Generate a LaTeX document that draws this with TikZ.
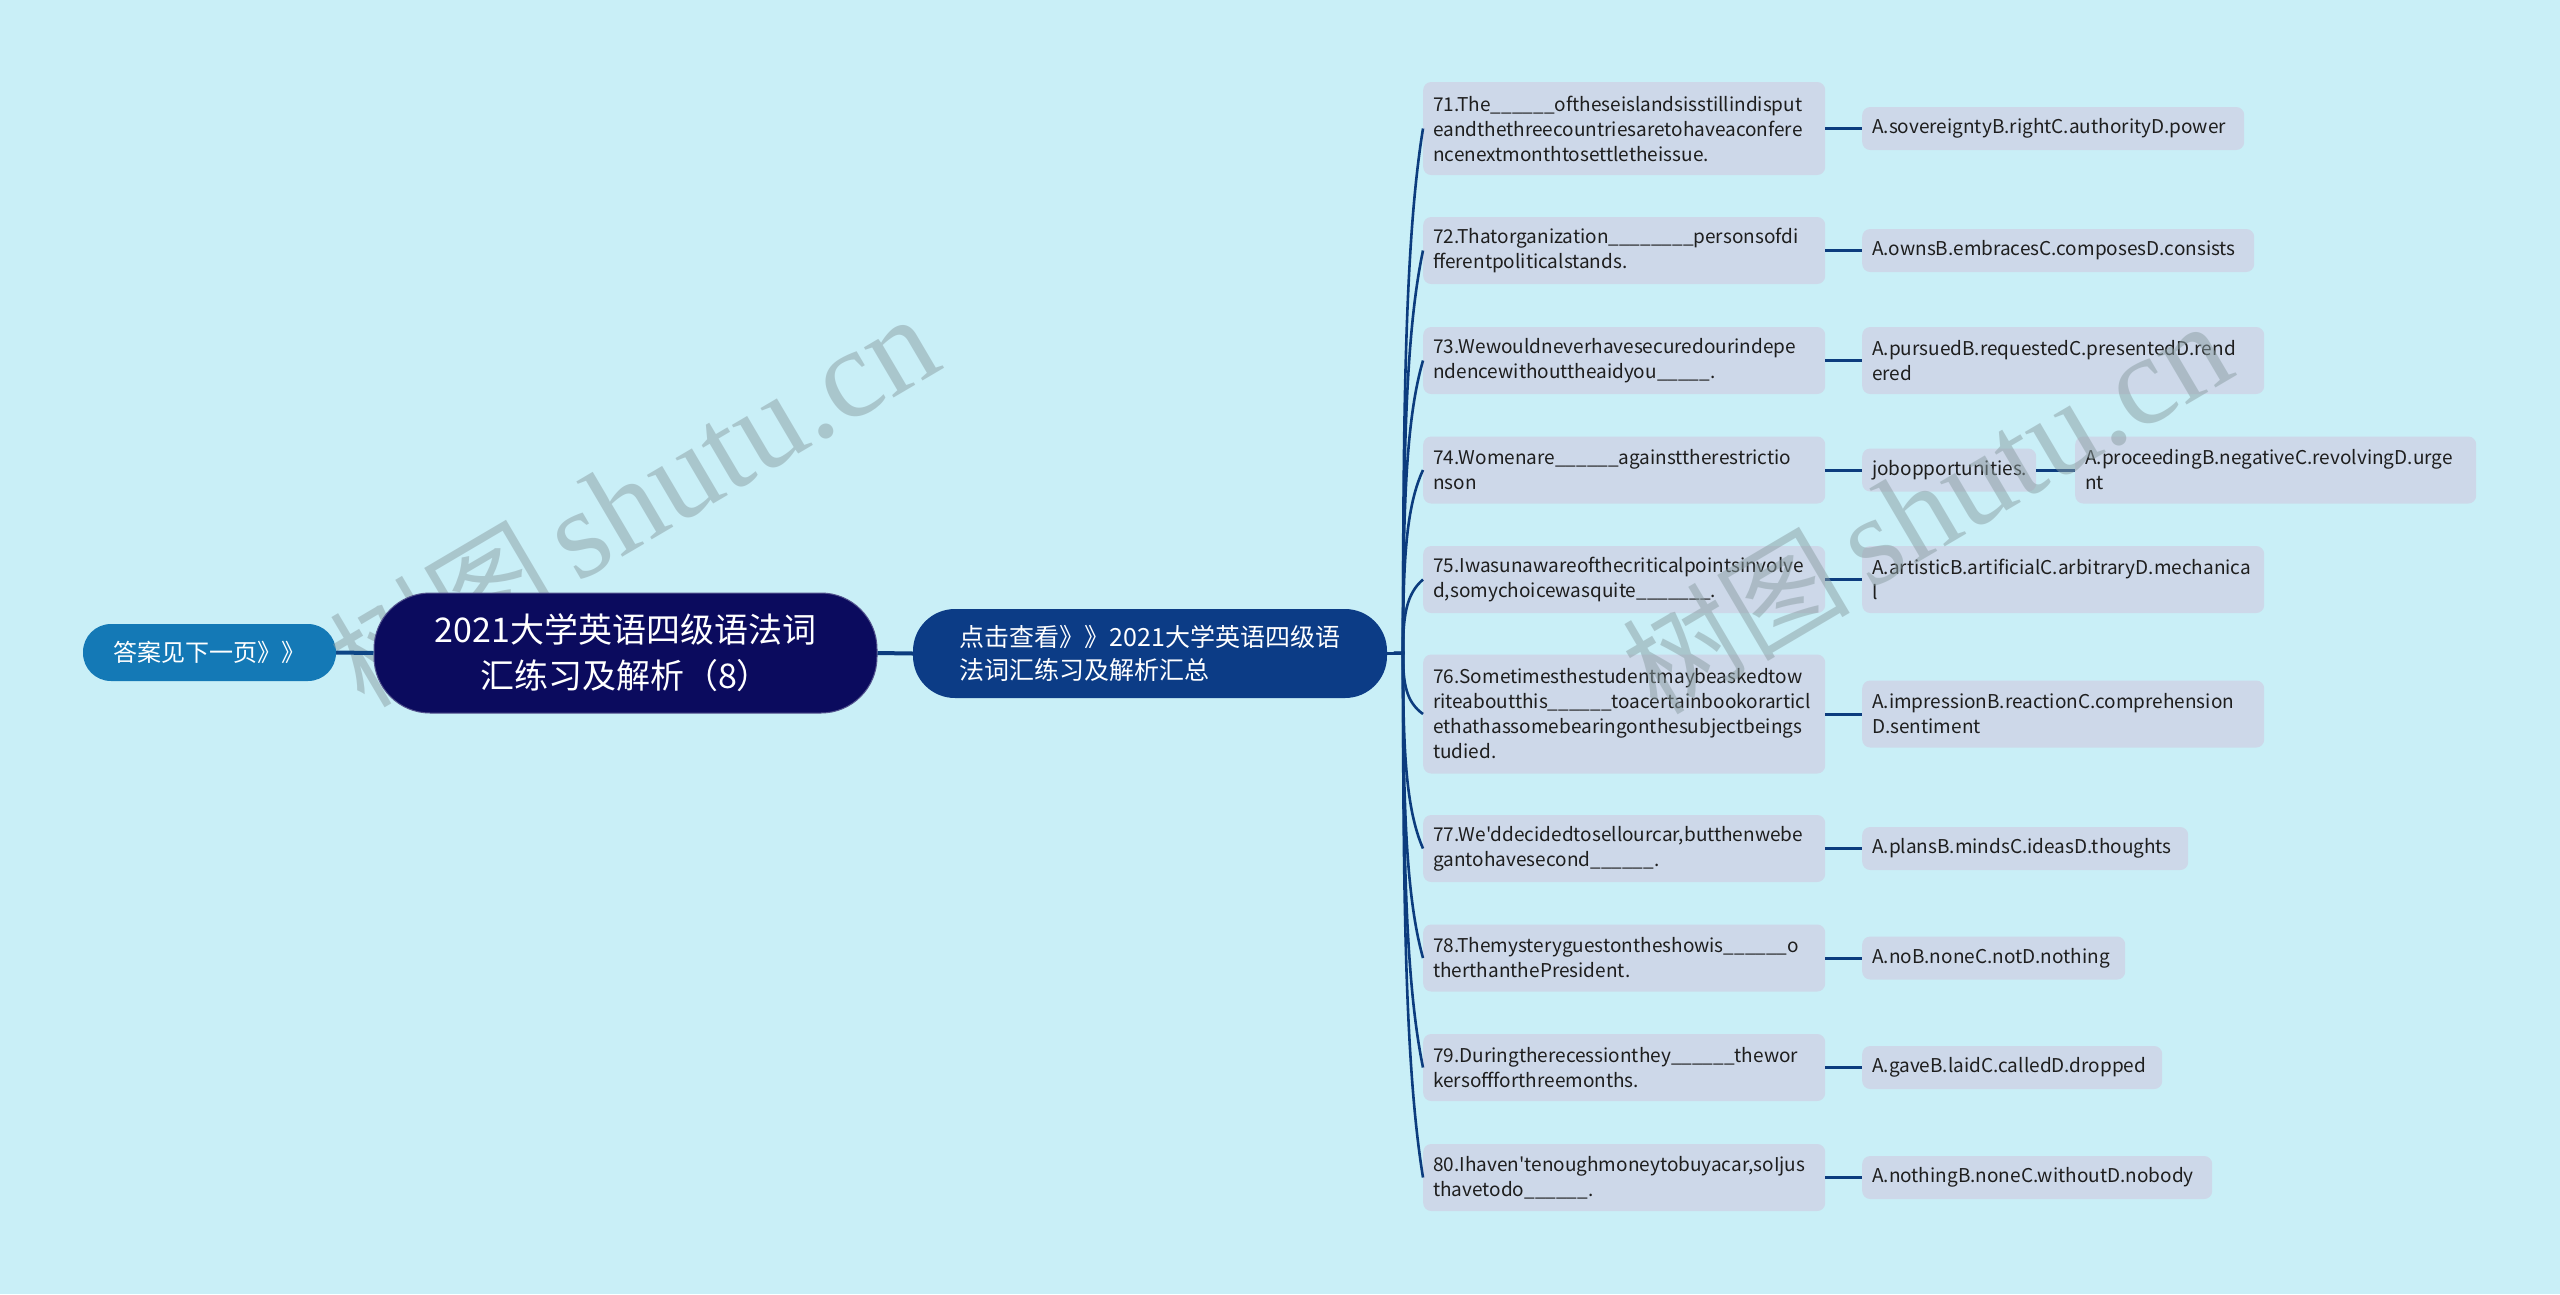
\documentclass[tikz,border=0pt]{standalone}
\usepackage{fontspec}
\newfontfamily\qf{Noto Sans CJK SC}
\newfontfamily\wmser{Liberation Serif}
\usetikzlibrary{calc}
\definecolor{bgc}{HTML}{C9EFF7}
\definecolor{ansc}{HTML}{1479B6}
\definecolor{rootc}{HTML}{0B0B5E}
\definecolor{secc}{HTML}{0C3C86}
\definecolor{linec}{HTML}{0C3C7E}
\definecolor{qfill}{HTML}{CDD8E9}
\definecolor{qtext}{HTML}{1E1E1E}
\definecolor{wmc}{HTML}{8A9EA3}
\newcommand{\blk}[1]{\foreach \i in {1,...,#1}{\_}}
\begin{document}
\begin{tikzpicture}[x=1pt,y=-1pt,
  pill/.style={text=white, align=center, inner sep=0pt},
  qbox/.style={fill=qfill, rounded corners=8pt, anchor=west, align=left,
     inner xsep=10pt, inner ysep=0pt, text=qtext,
     font=\qf\fontsize{19}{25}\selectfont},
  q1/.style={minimum height=43pt},
  q2/.style={minimum height=67pt},
  q3/.style={minimum height=93pt},
  q4/.style={minimum height=119pt},
  lk/.style={draw=linec, line width=3pt},
  lkb/.style={draw=linec, line width=2.6pt},
  wm/.style={text=wmc, opacity=0.5, rotate=30.5, inner sep=0pt}
]
\fill[bgc] (0,0) rectangle (2560,1294);
\useasboundingbox (0,0) rectangle (2560,1294);

% side nodes
\node[pill, fill=ansc, minimum width=253pt, minimum height=57pt, rounded corners=28pt,
  font=\qf\fontsize{24}{30}\selectfont] (ans) at (209.5,652.5) {答案见下一页》》};
\node[pill, fill=secc, minimum width=474pt, minimum height=89pt, rounded corners=42pt, align=left,
  font=\qf\fontsize{25}{33}\selectfont] (sec) at (1150,653.5) {点击查看》》2021大学英语四级语\\法词汇练习及解析汇总};

% questions
\node[qbox,q3,text width=382pt] (q71) at (1423,128.5) {71.The\blk{6}oftheseislandsisstillindisput\\eandthethreecountriesaretohaveaconfere\\ncenextmonthtosettletheissue.};
\node[qbox,q2,text width=382pt] (q72) at (1423,250.5) {72.Thatorganization\blk{8}personsofdi\\fferentpoliticalstands.};
\node[qbox,q2,text width=382pt] (q73) at (1423,360.5) {73.Wewouldneverhavesecuredourindepe\\ndencewithouttheaidyou\blk{5}.};
\node[qbox,q2,text width=382pt] (q74) at (1423,470) {74.Womenare\blk{6}againsttherestrictio\\nson};
\node[qbox,q2,text width=382pt] (q75) at (1423,579.5) {75.Iwasunawareofthecriticalpointsinvolve\\d,somychoicewasquite\blk{7}.};
\node[qbox,q4,text width=382pt] (q76) at (1423,714) {76.Sometimesthestudentmaybeaskedtow\\riteaboutthis\blk{6}toacertainbookorarticl\\ethathassomebearingonthesubjectbeings\\tudied.};
\node[qbox,q2,text width=382pt] (q77) at (1423,848.5) {77.We'ddecidedtosellourcar,butthenwebe\\gantohavesecond\blk{6}.};
\node[qbox,q2,text width=382pt] (q78) at (1423,958) {78.Themysteryguestontheshowis\blk{6}o\\therthanthePresident.};
\node[qbox,q2,text width=382pt] (q79) at (1423,1067.5) {79.Duringtherecessionthey\blk{6}thewor\\kersoffforthreemonths.};
\node[qbox,q2,text width=382pt] (q80) at (1423,1177.5) {80.Ihaven'tenoughmoneytobuyacar,soIjus\\thavetodo\blk{6}.};

% answers
\node[qbox,q1,text width=362pt] (a71) at (1862,128.5) {A.sovereigntyB.rightC.authorityD.power};
\node[qbox,q1,text width=372pt] (a72) at (1862,250.5) {A.ownsB.embracesC.composesD.consists};
\node[qbox,q2,text width=382pt] (a73) at (1862,360.5) {A.pursuedB.requestedC.presentedD.rend\\ered};
\node[qbox,q1,text width=154pt] (job) at (1862,470) {jobopportunities.};
\node[qbox,q2,text width=381pt] (a74) at (2075,470) {A.proceedingB.negativeC.revolvingD.urge\\nt};
\node[qbox,q2,text width=382pt] (a75) at (1862,579.5) {A.artisticB.artificialC.arbitraryD.mechanica\\l};
\node[qbox,q2,text width=382pt] (a76) at (1862,714) {A.impressionB.reactionC.comprehension\\D.sentiment};
\node[qbox,q1,text width=306pt] (a77) at (1862,848.5) {A.plansB.mindsC.ideasD.thoughts};
\node[qbox,q1,text width=243pt] (a78) at (1862,958) {A.noB.noneC.notD.nothing};
\node[qbox,q1,text width=280pt] (a79) at (1862,1067.5) {A.gaveB.laidC.calledD.dropped};
\node[qbox,q1,text width=330pt] (a80) at (1862,1177.5) {A.nothingB.noneC.withoutD.nobody};

% trunk connectors
\coordinate (j) at (1403,653);
\foreach \n/\y in {q71/128.5,q72/250.5,q73/360.5,q74/470,q75/579.5,q76/714,q77/848.5,q78/958,q79/1067.5,q80/1177.5}{
  \draw[lkb] (sec.east) -- (j) .. controls (1403,{653+(\y-653)*0.5}) and (1406,{\y+(653-\y)*0.2}) .. (\n.west);
}

% question to answer
\foreach \a/\b in {q71/a71,q72/a72,q73/a73,q74/job,job/a74,q75/a75,q76/a76,q77/a77,q78/a78,q79/a79,q80/a80}{
  \draw[lk] (\a.east) -- (\b.west);
}

% watermarks (over the boxes, under the root topic)
\node[wm] (wm1) at (633,501) {{\qf\fontsize{114}{124}\selectfont 树图}\hspace{20pt}{\wmser\fontsize{127}{134}\selectfont shutu.cn}};
\node[wm] (wm2) at (1926,508) {{\qf\fontsize{114}{124}\selectfont 树图}\hspace{20pt}{\wmser\fontsize{127}{134}\selectfont shutu.cn}};

% root topic and its links
\node[pill, fill=rootc, draw=rootc!70!white, line width=1pt, minimum width=503pt, minimum height=120pt, rounded corners=56pt,
  font=\qf\fontsize{34}{46}\selectfont] (root) at (625.5,653) {2021大学英语四级语法词\\汇练习及解析（8）};
\draw[lk, line width=4pt, draw=linec!85!ansc] (ans.east) -- (root.west);
\draw[lk, line width=4pt] (root.east) -- (sec.west);
\end{tikzpicture}
\end{document}
